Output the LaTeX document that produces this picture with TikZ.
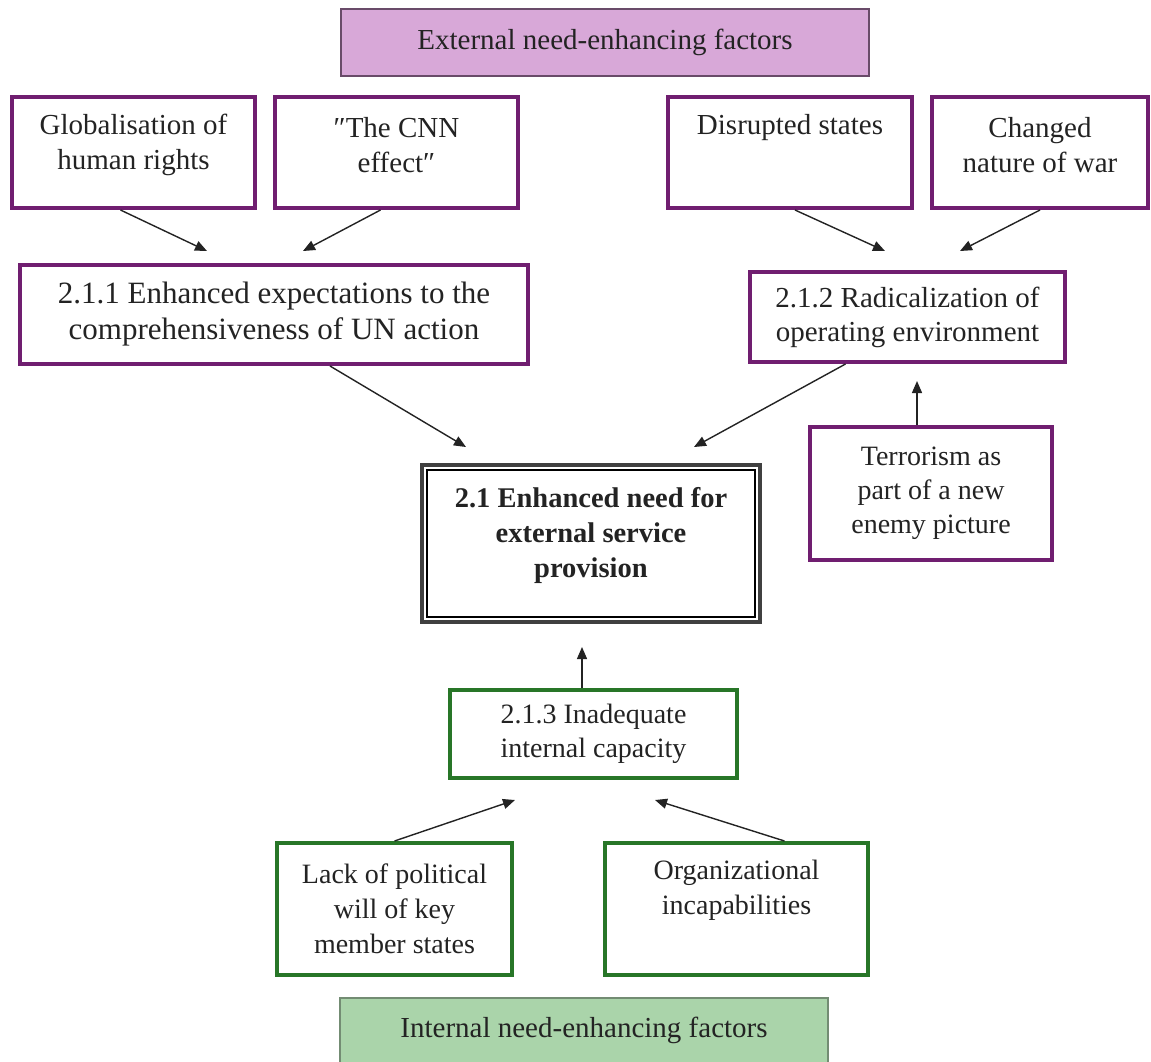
\documentclass[tikz,border=0pt]{standalone}
\usepackage{fontspec}
\setmainfont{Liberation Serif}
\usetikzlibrary{arrows.meta,calc}
\definecolor{purp}{RGB}{112,30,112}
\definecolor{grn}{RGB}{40,118,40}
\definecolor{hdrEfill}{RGB}{216,168,216}
\definecolor{hdrEline}{RGB}{105,75,105}
\definecolor{hdrIfill}{RGB}{170,212,170}
\definecolor{hdrIline}{RGB}{115,140,115}
\definecolor{ink}{RGB}{35,35,35}
\begin{document}
\begin{tikzpicture}[x=1pt,y=-1pt,
  bx/.style 2 args={rectangle, inner sep=0pt, minimum width=#1pt, minimum height=#2pt, align=center, text=ink},
  pbox/.style={draw=purp, line width=4pt},
  gbox/.style={draw=grn, line width=4pt},
  txt/.style={align=center, inner sep=0pt, text=ink, font=\fontsize{29}{35}\selectfont},
  arr/.style={-{Triangle[length=12pt,width=10pt]}, line width=1.4pt, draw=ink}]
\useasboundingbox (0,0) rectangle (1151,1061);
\fill[white] (0,0) rectangle (1151,1061);
\clip (0,0) rectangle (1151,1061);

% headers
\node[bx={528}{67}, draw=hdrEline, fill=hdrEfill, line width=2.5pt, font=\fontsize{29}{35}\selectfont] (hdrE) at (605,42.5) {External need-enhancing factors};
\node[bx={488}{70}, draw=hdrIline, fill=hdrIfill, line width=2.5pt] (hdrI) at (584,1033) {};
\node[txt] (hdrIt) at (584,1030) {Internal need-enhancing factors};

% top row
\node[bx={243}{111}, pbox] (glob) at (133.5,152.5) {};
\node[txt] (globt) at (133.5,145) {Globalisation of\\human rights};
\node[bx={243}{111}, pbox] (cnn) at (396.5,152.5) {};
\node[txt] (cnnt) at (396.5,145) {″The CNN\\effect″};
\node[bx={244}{111}, pbox] (disr) at (790,152.5) {};
\node[txt] (disrt) at (790,128) {Disrupted states};
\node[bx={216}{111}, pbox] (chg) at (1040,152.5) {};
\node[txt] (chgt) at (1040,145) {Changed\\nature of war};

% second level
\node[bx={508}{99}, pbox, font=\fontsize{31}{36}\selectfont] (e211) at (274,314.5) {2.1.1 Enhanced expectations to the\\comprehensiveness of UN action};
\node[bx={315}{90}, pbox, font=\fontsize{29}{34}\selectfont] (e212) at (907.5,317) {2.1.2 Radicalization of\\operating environment};
\node[bx={242}{133}, pbox, font=\fontsize{28}{34}\selectfont] (terr) at (931,493.5) {Terrorism as\\part of a new\\enemy picture};

% centre
\node[bx={338}{157}, draw=black!75, line width=4pt] (cen) at (591,543.5) {};
\draw[line width=1.6pt, black] ($(cen.north west)+(7,7)$) rectangle ($(cen.south east)+(-7,-7)$);
\node[txt, font=\bfseries\fontsize{28.5}{35}\selectfont] (cent) at (591,535) {2.1 Enhanced need for\\external service\\provision};

% internal
\node[bx={287}{88}, gbox, font=\fontsize{28}{34}\selectfont] (e213) at (593.5,734) {2.1.3 Inadequate\\internal capacity};
\node[bx={235}{132}, gbox, font=\fontsize{28}{35}\selectfont] (lack) at (394.5,909) {Lack of political\\will of key\\member states};
\node[bx={263}{132}, gbox] (org) at (736.5,909) {};
\node[txt, font=\fontsize{28}{35}\selectfont] (orgt) at (736.5,890) {Organizational\\incapabilities};

% arrow end points
\coordinate (t1) at (207,251);
\coordinate (t2) at (303,251);
\coordinate (t3) at (885,251);
\coordinate (t4) at (960,251);
\coordinate (t5) at (466,447);
\coordinate (t6) at (694,447);
\coordinate (t7) at (917,381);
\coordinate (t8) at (582,647);
\coordinate (t9) at (515,800);
\coordinate (t10) at (655,800);

\draw[arr] ([xshift=-13pt]glob.south) -- (t1);
\draw[arr] ([xshift=-16pt]cnn.south) -- (t2);
\draw[arr] ([xshift=5pt]disr.south) -- (t3);
\draw[arr] (chg.south) -- (t4);
\draw[arr] ([xshift=56pt]e211.south) -- (t5);
\draw[arr] ([xshift=-62pt]e212.south) -- (t6);
\draw[arr] ([xshift=-14pt]terr.north) -- (t7);
\draw[arr] ([xshift=-11.5pt]e213.north) -- (t8);
\draw[arr] (lack.north) -- (t9);
\draw[arr] ([xshift=48pt]org.north) -- (t10);
\end{tikzpicture}
\end{document}
